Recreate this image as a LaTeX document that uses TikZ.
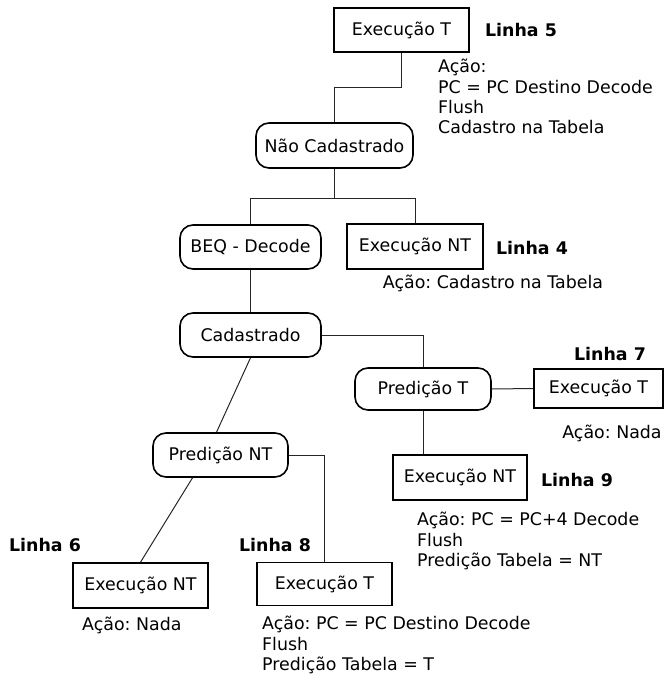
\documentclass[tikz,border=0pt]{standalone}
\usepackage{fontspec}
\setmainfont{DejaVu Sans}
\frenchspacing

\begin{document}
\begin{tikzpicture}[x=1pt,y=-1pt,
        every node/.style={font=\fontsize{17.4}{20.4}\selectfont},
        exec/.style={draw,line width=1.6pt,minimum width=135pt,minimum height=44pt,inner sep=2pt},
        cond/.style={draw,line width=1.6pt,rounded corners=13pt,minimum width=141pt,minimum height=44pt,inner sep=2pt},
        linha/.style={font=\fontsize{17.4}{20.4}\selectfont\bfseries},
        acao/.style={align=left,inner sep=0pt},
        wire/.style={line width=1pt,black!85}]
        % frame
        \useasboundingbox (0,0) rectangle (667,676);
        % conditions
        \node[cond,minimum width=157pt,minimum height=45pt] (naocad) at (334.5,145.5) {Não Cadastrado};
        \node[cond] (beq) at (250.5,247) {BEQ - Decode};
        \node[cond] (cad) at (250.5,335) {Cadastrado};
        \node[cond,minimum width=136pt,minimum height=42pt] (predt) at (423,389) {Predição T};
        \node[cond,minimum width=135pt] (prednt) at (220.5,455) {Predição NT};
        % executions
        \node[exec,line width=2pt] (exet5) at (401.5,30) {Execução T};
        \node[exec,minimum width=136pt,minimum height=45pt] (exent4) at (415,246.5) {Execução NT};
        \node[exec,minimum width=129pt,minimum height=39pt] (exet7) at (598.5,388.5) {Execução T};
        \node[exec,minimum width=134pt,minimum height=45pt] (exent9) at (460,477.5) {Execução NT};
        \node[exec,minimum height=45pt] (exent6) at (140.5,585.5) {Execução NT};
        \node[exec,minimum height=43pt] (exet8) at (324.5,584) {Execução T};
        % line numbers
        \node[linha] (l5) at (521,30) {Linha 5};
        \node[linha] (l4) at (532,248) {Linha 4};
        \node[linha] (l7) at (610,354) {Linha 7};
        \node[linha] (l9) at (577,480) {Linha 9};
        \node[linha] (l6) at (45,545) {Linha 6};
        \node[linha] (l8) at (275,545) {Linha 8};
        % actions
        \node[acao,anchor=north west] (a5) at (438,59) {Ação:\\PC = PC Destino Decode\\Flush\\Cadastro na Tabela};
        \node[acao] (a4) at (493,283) {Ação: Cadastro na Tabela};
        \node[acao] (a7) at (612,433) {Ação: Nada};
        \node[acao,anchor=north west] (a9) at (417,512) {Ação: PC = PC+4 Decode\\Flush\\Predição Tabela = NT};
        \node[acao,anchor=west] (a6) at (82,625) {Ação: Nada};
        \node[acao,anchor=north west] (a8) at (262,616) {Ação: PC = PC Destino Decode\\Flush\\Predição Tabela = T};
        % connectors
        \draw[wire] (exet5.south) -- ++(0,35) -| (naocad.north);
        \draw[wire] (naocad.south) -- ++(0,30) coordinate (split);
        \draw[wire] (split) -| (beq.north);
        \draw[wire] (split) -| (exent4.north);
        \draw[wire] (beq.south) -- (cad.north);
        \draw[wire] (cad.east) -| (predt.north);
        \draw[wire] (predt.east) -- (exet7.west);
        \draw[wire] (predt.south) -- (predt.south |- exent9.north);
        \draw[wire] (cad.south) -- ([xshift=-4pt]prednt.north);
        \draw[wire] (prednt.east) -| (exet8.north);
        \draw[wire] ([xshift=-28pt]prednt.south) -- (exent6.north);
\end{tikzpicture}
\end{document}
